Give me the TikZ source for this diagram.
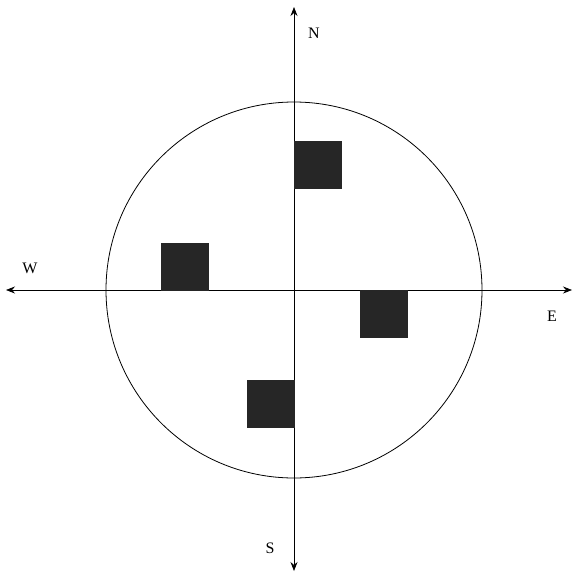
\documentclass[tikz,border=0pt]{standalone}
\usepackage{fontspec}
\setmainfont{Liberation Serif}
\usetikzlibrary{arrows.meta, positioning}

\begin{document}
\begin{tikzpicture}[x=1pt,y=-1pt,
		feld/.style={draw=black!85, fill=black!85, minimum size=47pt, inner sep=0pt},
		richtung/.style={font=\fontsize{16}{16}\selectfont, inner sep=0pt},
		achse/.style={{Stealth[length=9pt,width=7pt,inset=3pt]}-{Stealth[length=9pt,width=7pt,inset=3pt]}, line width=0.7pt}]
	\useasboundingbox (0,0) rectangle (574,576);
	
	% Mittelpunkt und Achsenenden
	\coordinate (M) at (294,290);
	\coordinate (nord) at (294,7);
	\coordinate (sued) at (294,571);
	\coordinate (west) at (6,290);
	\coordinate (ost) at (572,290);
	
	% Kreis
	\draw[line width=0.8pt] (M) circle[radius=188];
	
	% Achsen
	\draw[achse] (west) -- (ost);
	\draw[achse] (sued) -- (nord);
	
	% Himmelsrichtungen
	\node[richtung] (N) at (314,33) {N};
	\node[richtung] (W) at (30,268) {W};
	\node[richtung] (E) at (552,316) {E};
	\node[richtung] (S) at (270,548) {S};
	
	% Felder
	\node[feld, anchor=north west] (feldN) at (294,141) {};
	\node[feld, anchor=south west] (feldW) at (161,290) {};
	\node[feld, anchor=north west] (feldE) at (360,290) {};
	\node[feld, anchor=north east] (feldS) at (294,380) {};
\end{tikzpicture}
\end{document}
